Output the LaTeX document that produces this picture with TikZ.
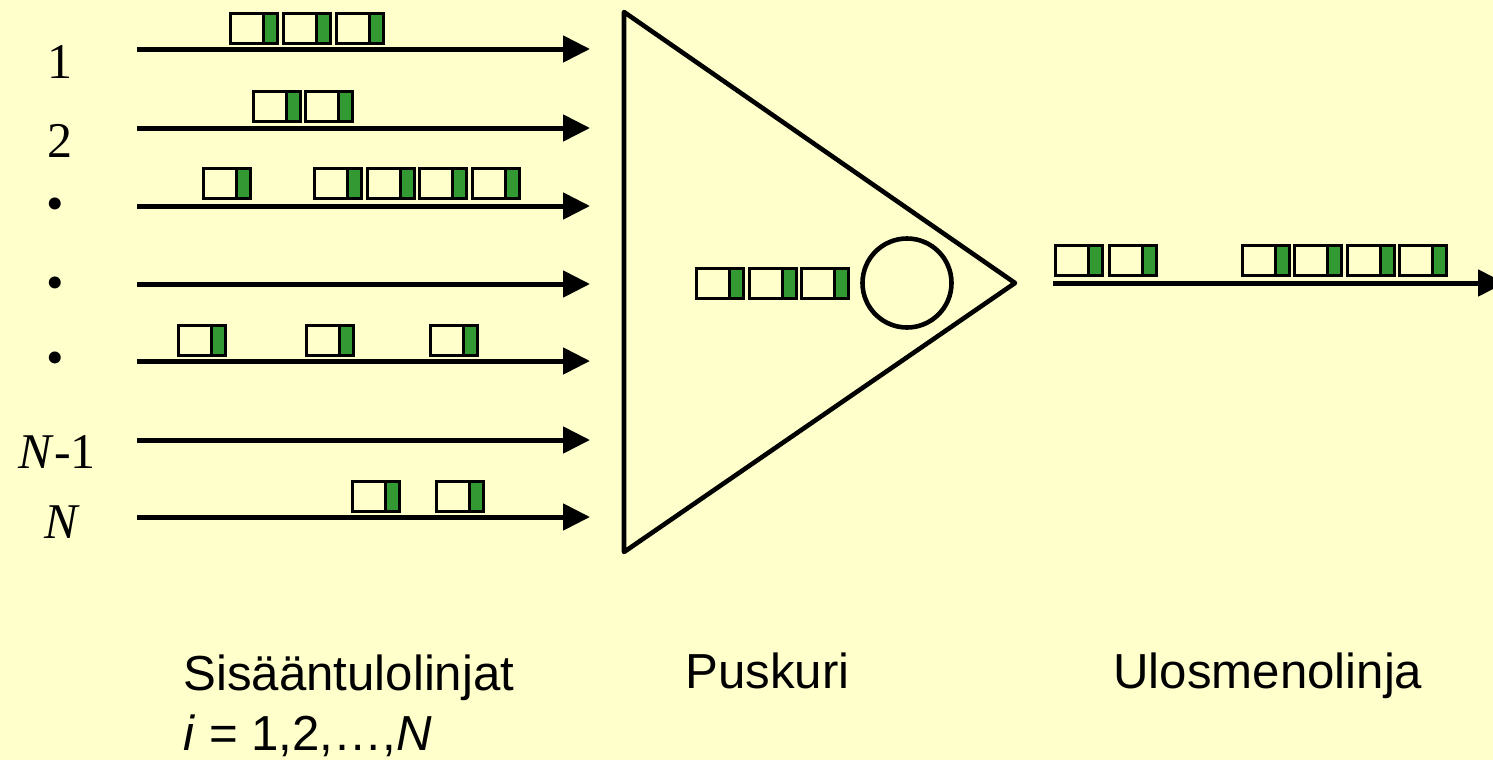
\documentclass[tikz,border=0pt]{standalone}
\usepackage{fontspec}
\setmainfont{Liberation Serif}
\newfontfamily\sansf{Liberation Sans}
\usetikzlibrary{arrows.meta}
\definecolor{bg}{HTML}{FFFFCC}
\definecolor{pgreen}{HTML}{339933}
\tikzset{
  inline/.style={line width=2.5pt, -{Triangle[length=13.5pt,width=13pt]}},
  pkt/.style={draw=black, line width=1.5pt},
  lbl/.style={inner sep=0, anchor=base, font=\fontsize{25}{30}\selectfont},
  dotlbl/.style={inner sep=0, anchor=center, font=\fontsize{25}{30}\selectfont},
  slbl/.style={inner sep=0, anchor=base west, font=\sansf\fontsize{24.6}{30}\selectfont},
  bufshape/.style={draw=black, line width=2.3pt, line join=round},
}
\newcommand\packet[2]{%
  \draw[pkt] (#1,#2) rectangle (#1+33,#2+30);
  \draw[pkt,fill=pgreen] (#1+33,#2) rectangle (#1+47,#2+30);}
\begin{document}
\begin{tikzpicture}[x=0.5pt,y=-0.5pt]
\fill[bg] (0,0) rectangle (1493,760);
\useasboundingbox (0,0) rectangle (1493,760);
% input lines
\foreach \i/\y in {1/49,2/128,3/206,4/284,5/361,6/440,7/517}{
  \coordinate (s\i) at (137,\y);
  \coordinate (e\i) at (590,\y);
  \draw[inline] (s\i) -- (e\i);
}
% labels of inputs
\node[lbl] (l1) at (60,78) {1};
\node[lbl] (l2) at (60,157) {2};
\node[dotlbl] (d1) at (55,209) {•};
\node[dotlbl] (d2) at (55,288) {•};
\node[dotlbl] (d3) at (55,363) {•};
\node[lbl] (lN1) at (57,468) {\textit{N}-1};
\node[lbl] (lN) at (62,538) {\textit{N}};
% packets on input lines
\foreach \x in {230,283,336} {\packet{\x}{13}}
\foreach \x in {253,305} {\packet{\x}{91}}
\foreach \x in {203,314,367,419,472} {\packet{\x}{168}}
\foreach \x in {178,306,430} {\packet{\x}{325}}
\foreach \x in {352,436} {\packet{\x}{481}}
% buffer
\coordinate (tA) at (624,12);
\coordinate (tB) at (624,552);
\coordinate (tC) at (1015,283);
\draw[bufshape] (tA) -- (tC) -- (tB) -- cycle;
\node[draw, circle, line width=2.3pt, minimum size=44.5pt, inner sep=0] (srv) at (907,283) {};
\foreach \x in {696,749,801} {\packet{\x}{268}}
% output line
\coordinate (o1) at (1053,283);
\coordinate (o2) at (1505,283);
\draw[inline] (o1) -- (o2);
\foreach \x in {1055,1109,1242,1294,1347,1399} {\packet{\x}{245}}
% bottom labels
\node[slbl] (tin) at (183,690) {Sisääntulolinjat};
\node[slbl] (tin2) at (183,750) {\textit{i} = 1,2,…,\textit{N}};
\node[slbl] (tbuf) at (685,688) {Puskuri};
\node[slbl] (tout) at (1113,688) {Ulosmenolinja};
\end{tikzpicture}
\end{document}
